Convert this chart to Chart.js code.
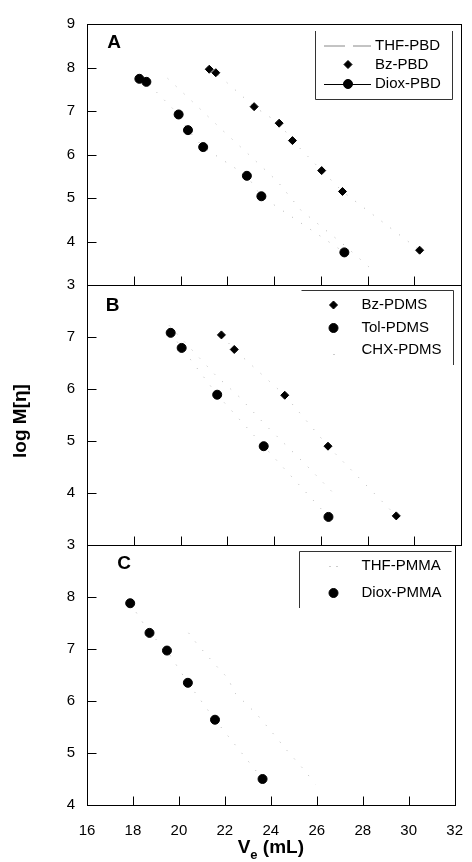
<!DOCTYPE html>
<html lang="en">
<head>
    <meta charset="UTF-8">
    <title>log M[η] vs Ve</title>
    <script src="https://cdn.jsdelivr.net/npm/chart.js"></script>
    <style>
        body {
            margin: 0;
            background: #fff;
        }

        #wrap {
            position: relative;
            width: 472px;
            height: 862px;
        }

        #wrap canvas {
            position: absolute;
            left: 0;
            top: 0;
        }
    </style>
</head>
<body>
    <div id="wrap">
        <canvas id="panelA" width="472" height="862"></canvas>
        <canvas id="panelB" width="472" height="862"></canvas>
        <canvas id="panelC" width="472" height="862"></canvas>
    </div>

    <script>
        // x axis ticks (Ve, mL)
        const veTicks = [16, 18, 20, 22, 24, 26, 28, 30, 32];

        // panel A: PBD
        const thfPbdVe = [19.45, 20.52, 21.87, 22.94, 24.15, 25.15, 27.00, 28.28];
        const thfPbdLogM = [7.75, 7.21, 6.52, 5.99, 5.38, 4.72, 3.92, 3.31];
        const bzPbdVe = [21.23, 21.51, 23.15, 24.22, 24.79, 26.04, 26.93, 30.23];
        const bzPbdLogM = [7.96, 7.88, 7.10, 6.72, 6.32, 5.63, 5.15, 3.80];
        const dioxPbdVe = [18.24, 18.54, 19.92, 20.32, 20.97, 22.84, 23.46, 27.01];
        const dioxPbdLogM = [7.74, 7.67, 6.92, 6.56, 6.17, 5.51, 5.04, 3.75];

        // panel B: PDMS
        const bzPdmsVe = [21.75, 22.30, 24.46, 26.31, 29.23];
        const bzPdmsLogM = [7.04, 6.76, 5.88, 4.90, 3.56];
        const tolPdmsVe = [19.58, 20.05, 21.57, 23.56, 26.33];
        const tolPdmsLogM = [7.08, 6.79, 5.89, 4.90, 3.54];
        const chxPdmsVe = [19.52, 21.51, 22.51, 23.65, 24.15, 25.39, 26.71];
        const chxPdmsLogM = [7.22, 6.26, 5.85, 5.30, 5.08, 4.53, 3.92];

        // panel C: PMMA
        const thfPmmaVe = [20.42, 20.80, 21.70, 22.15, 22.40, 23.38, 24.22, 24.66, 25.50, 25.93];
        const thfPmmaLogM = [7.31, 7.09, 6.64, 6.43, 6.17, 5.75, 5.31, 5.07, 4.65, 4.40];
        const dioxPmmaVe = [17.88, 18.72, 19.48, 20.39, 21.57, 23.64];
        const dioxPmmaLogM = [7.88, 7.31, 6.97, 6.35, 5.64, 4.50];

        const FONT = "'Liberation Sans', Arial, sans-serif";
        const FAINT = '#b4b4b4';

        Chart.defaults.font.family = FONT;
        Chart.defaults.color = '#000';

        function toPoints(xs, ys) {
            return xs.map((v, i) => ({ x: v, y: ys[i] }));
        }

        function faintSeries(label, xs, ys) {
            return {
                label: label,
                data: toPoints(xs, ys),
                showLine: true,
                borderColor: FAINT,
                borderWidth: 1,
                borderDash: [1, 10],
                pointRadius: 0,
                pointHoverRadius: 0
            };
        }

        function markerSeries(label, xs, ys, style, radius) {
            const ds = faintSeries(label, xs, ys);
            ds.pointStyle = style;
            ds.pointRadius = radius;
            ds.pointBackgroundColor = '#000';
            ds.pointBorderColor = '#000';
            ds.pointBorderWidth = 1;
            return ds;
        }

        // box, inner ticks, panel letter and legend
        const panelDecor = {
            id: 'panelDecor',
            beforeDatasetsDraw(chart, args, opts) {
                const { ctx, chartArea: a, scales } = chart;
                const L = Math.round(a.left) + 0.5, R = Math.round(a.right) + 0.5;
                const T = Math.round(a.top) + 0.5, B = Math.round(a.bottom) + 0.5;
                ctx.save();
                ctx.strokeStyle = '#000';
                ctx.lineWidth = 1;
                ctx.strokeRect(L, T, R - L, B - T);
                ctx.beginPath();
                veTicks.slice(1, -1).forEach(v => {
                    const px = Math.round(scales.x.getPixelForValue(v)) + 0.5;
                    ctx.moveTo(px, B);
                    ctx.lineTo(px, B - 9);
                });
                for (let v = opts.yMin + 1; v < opts.yMax; v++) {
                    const py = Math.round(scales.y.getPixelForValue(v)) + 0.5;
                    ctx.moveTo(L, py);
                    ctx.lineTo(L + 9, py);
                }
                ctx.stroke();
                ctx.restore();
            },
            afterDraw(chart, args, opts) {
                const ctx = chart.ctx;
                ctx.save();
                ctx.fillStyle = '#000';
                ctx.font = 'bold 19px ' + FONT;
                ctx.textAlign = 'center';
                ctx.textBaseline = 'middle';
                ctx.fillText(opts.letter, opts.letterX, opts.letterY);

                ctx.strokeStyle = '#333';
                ctx.lineWidth = 1;
                ctx.beginPath();
                opts.boxLines.forEach(seg => {
                    ctx.moveTo(seg[0], seg[1]);
                    ctx.lineTo(seg[2], seg[3]);
                });
                ctx.stroke();

                ctx.font = '15px ' + FONT;
                ctx.textAlign = 'left';
                opts.entries.forEach(e => {
                    const ds = chart.data.datasets[e.index];
                    const y = e.y;
                    ctx.fillStyle = '#000';
                    ctx.fillText(ds.label, opts.textX, y);
                    if (e.kind === 'dash') {
                        ctx.strokeStyle = '#888';
                        ctx.beginPath();
                        ctx.moveTo(opts.sampleX0, y + 0.5);
                        ctx.lineTo(opts.sampleX0 + 21, y + 0.5);
                        ctx.moveTo(opts.sampleX0 + 29, y + 0.5);
                        ctx.lineTo(opts.sampleX1, y + 0.5);
                        ctx.stroke();
                    } else if (e.kind === 'dot' || e.kind === 'dots') {
                        ctx.fillStyle = '#999';
                        if (e.kind === 'dot') {
                            ctx.fillRect(opts.markX, y + 4, 1, 1);
                        } else {
                            ctx.fillRect(opts.markX - 4, y, 1, 1);
                            ctx.fillRect(opts.markX + 3, y, 1, 1);
                        }
                    } else {
                        if (e.kind === 'lineMarker') {
                            ctx.strokeStyle = '#000';
                            ctx.beginPath();
                            ctx.moveTo(opts.sampleX0, y + 0.5);
                            ctx.lineTo(opts.sampleX1, y + 0.5);
                            ctx.stroke();
                        }
                        ctx.fillStyle = '#000';
                        ctx.strokeStyle = '#000';
                        Chart.helpers.drawPoint(ctx, {
                            pointStyle: ds.pointStyle,
                            radius: ds.pointRadius,
                            borderWidth: 1,
                            rotation: 0
                        }, opts.markX, y);
                    }
                });
                ctx.restore();
            }
        };

        // axis titles, drawn once on the last panel
        const axisTitles = {
            id: 'axisTitles',
            afterDraw(chart) {
                const ctx = chart.ctx;
                const a = chart.chartArea;
                ctx.save();
                ctx.fillStyle = '#000';
                ctx.textBaseline = 'alphabetic';
                ctx.textAlign = 'left';
                const big = 'bold 19px ' + FONT, small = 'bold 13px ' + FONT;
                ctx.font = big;
                const wV = ctx.measureText('V').width;
                const wRest = ctx.measureText(' (mL)').width;
                ctx.font = small;
                const wE = ctx.measureText('e').width;
                let x = (a.left + a.right) / 2 - (wV + wE + wRest) / 2;
                ctx.font = big;
                ctx.fillText('V', x, 853);
                x += wV;
                ctx.font = small;
                ctx.fillText('e', x, 859);
                x += wE;
                ctx.font = big;
                ctx.fillText(' (mL)', x, 853);

                ctx.translate(21, 421);
                ctx.rotate(-Math.PI / 2);
                ctx.textAlign = 'center';
                ctx.textBaseline = 'middle';
                ctx.font = 'bold 19px ' + FONT;
                ctx.fillText('log M[η]', 0, 0);
                ctx.restore();
            }
        };

        function makePanel(id, datasets, p) {
            const showX = !!p.showX;
            return new Chart(document.getElementById(id), {
                type: 'scatter',
                data: { datasets: datasets },
                options: {
                    responsive: false,
                    animation: false,
                    events: [],
                    layout: {
                        padding: { left: 0, right: 11, top: p.top, bottom: p.bottom }
                    },
                    scales: {
                        x: {
                            type: 'linear',
                            min: 16,
                            max: 32,
                            display: showX,
                            afterFit: s => { s.height = showX ? 57 : 0; },
                            grid: { display: false },
                            border: { display: false },
                            afterBuildTicks: s => { s.ticks = veTicks.map(v => ({ value: v })); },
                            ticks: { padding: 9, font: { size: 15 }, color: '#000', maxRotation: 0 }
                        },
                        y: {
                            type: 'linear',
                            min: p.yMin,
                            max: p.yMax,
                            afterFit: s => { s.width = 87; },
                            grid: { display: false },
                            border: { display: false },
                            ticks: {
                                stepSize: 1,
                                padding: 4,
                                font: { size: 15 },
                                color: '#000',
                                callback: v => (p.hideTop && v === p.yMax ? '' : v)
                            }
                        }
                    },
                    plugins: {
                        legend: { display: false },
                        tooltip: { enabled: false },
                        panelDecor: Object.assign({ yMin: p.yMin, yMax: p.yMax }, p.decor)
                    }
                },
                plugins: p.titles ? [panelDecor, axisTitles] : [panelDecor]
            });
        }

        makePanel('panelA', [
            faintSeries('THF-PBD', thfPbdVe, thfPbdLogM),
            markerSeries('Bz-PBD', bzPbdVe, bzPbdLogM, 'rectRot', 4),
            markerSeries('Diox-PBD', dioxPbdVe, dioxPbdLogM, 'circle', 4.5)
        ], {
            yMin: 3, yMax: 9, top: 24, bottom: 577,
            decor: {
                letter: 'A', letterX: 114, letterY: 43,
                boxLines: [[315.5, 31, 315.5, 99.5], [315.5, 99.5, 452.5, 99.5], [452.5, 31, 452.5, 99.5]],
                textX: 375, markX: 348, sampleX0: 324, sampleX1: 371,
                entries: [
                    { index: 0, kind: 'dash', y: 45.5 },
                    { index: 1, kind: 'marker', y: 64.5 },
                    { index: 2, kind: 'lineMarker', y: 84 }
                ]
            }
        });

        makePanel('panelB', [
            markerSeries('Bz-PDMS', bzPdmsVe, bzPdmsLogM, 'rectRot', 4),
            markerSeries('Tol-PDMS', tolPdmsVe, tolPdmsLogM, 'circle', 4.5),
            faintSeries('CHX-PDMS', chxPdmsVe, chxPdmsLogM)
        ], {
            yMin: 3, yMax: 8, top: 285, bottom: 317, hideTop: true,
            decor: {
                letter: 'B', letterX: 112.5, letterY: 305.5,
                boxLines: [[301.5, 290.5, 453.5, 290.5], [453.5, 290.5, 453.5, 365]],
                textX: 361.5, markX: 333.5, sampleX0: 320, sampleX1: 348,
                entries: [
                    { index: 0, kind: 'marker', y: 305 },
                    { index: 1, kind: 'marker', y: 328 },
                    { index: 2, kind: 'dot', y: 350 }
                ]
            }
        });

        makePanel('panelC', [
            faintSeries('THF-PMMA', thfPmmaVe, thfPmmaLogM),
            markerSeries('Diox-PMMA', dioxPmmaVe, dioxPmmaLogM, 'circle', 4.5)
        ], {
            yMin: 4, yMax: 9, top: 545, bottom: 0, hideTop: true, showX: true, titles: true,
            decor: {
                letter: 'C', letterX: 124, letterY: 564,
                boxLines: [[299.5, 551.5, 451.5, 551.5], [299.5, 551.5, 299.5, 608]],
                textX: 361.5, markX: 333.5, sampleX0: 320, sampleX1: 348,
                entries: [
                    { index: 0, kind: 'dots', y: 566 },
                    { index: 1, kind: 'marker', y: 593 }
                ]
            }
        });
    </script>
</body>
</html>
